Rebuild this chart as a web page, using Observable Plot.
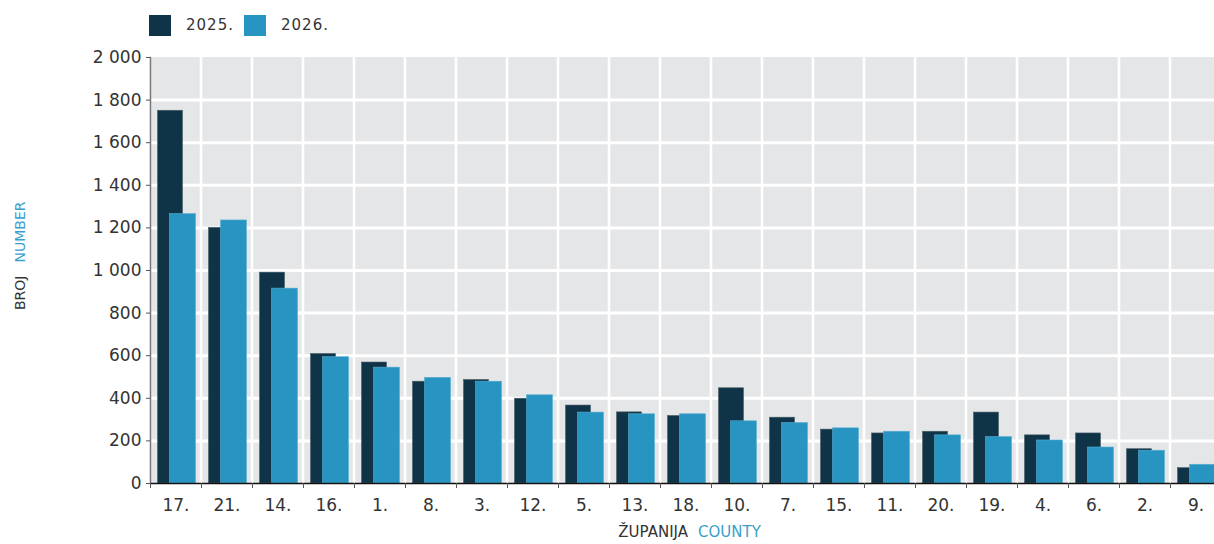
<!DOCTYPE html>
<html>
<head>
<meta charset="utf-8">
<script src="https://cdn.jsdelivr.net/npm/d3@7"></script>
<script src="https://cdn.jsdelivr.net/npm/@observablehq/plot@0.6"></script>
<style>
  html, body { margin: 0; padding: 0; background: #fff; overflow: hidden; width: 1214px; height: 544px; }
  #legend { position: relative; height: 50px; font-family: "DejaVu Sans", sans-serif; font-size: 15px; color: #333; }
  .sw { position: absolute; top: 15px; width: 22px; height: 21px; }
  .lt { position: absolute; top: 15px; line-height: 21px; letter-spacing: 1px; }
  #chart svg { display: block; overflow: visible; max-width: none !important; }
</style>
</head>
<body>
<div id="legend">
  <div class="sw" style="left:149px;background:#0f3447"></div>
  <div class="lt" style="left:186px">2025.</div>
  <div class="sw" style="left:244px;background:#2794c2"></div>
  <div class="lt" style="left:281px">2026.</div>
</div>
<div id="chart"></div>
<script>
const counties = ["17.","21.","14.","16.","1.","8.","3.","12.","5.","13.","18.","10.","7.","15.","11.","20.","19.","4.","6.","2.","9."];
const v2025 = [1750,1200,990,608,568,478,486,398,366,334,317,447,309,253,235,243,333,226,235,161,72];
const v2026 = [1265,1235,915,593,544,496,478,414,333,325,325,292,284,259,243,226,218,202,169,154,88];
const yTicks = [0,200,400,600,800,1000,1200,1400,1600,1800,2000];

const rows25 = counties.map((c,i) => ({county: c, value: v2025[i]}));
const rows26 = counties.map((c,i) => ({county: c, value: v2026[i]}));
const fmt = d => d3.format(",")(d).replace(/,/g, " ");

const bw = (1221 - 150) / counties.length;

const chart = Plot.plot({
  width: 1222,
  height: 494,
  marginLeft: 150,
  marginRight: 1,
  marginTop: 7,
  marginBottom: 61,
  style: { fontFamily: "DejaVu Sans, sans-serif", fontSize: "17px", color: "#333", background: "transparent", maxWidth: "none" },
  x: { domain: counties, padding: 0, label: null },
  y: { domain: [0, 2000], label: null },
  marks: [
    Plot.barY(counties, { x: d => d, y1: 0, y2: 2000, fill: "#e5e6e8", insetLeft: 1.3, insetRight: 1.3 }),
    Plot.ruleY(yTicks.filter(d => d > 0 && d < 2000), { stroke: "#fff", strokeWidth: 3 }),
    Plot.barY(rows25, { x: "county", y: "value", fill: "#0f3447", insetLeft: 7.5, insetRight: 18.5, stroke: "#4a5e68", strokeWidth: 0.6 }),
    Plot.barY(rows26, { x: "county", y: "value", fill: "#2794c2", insetLeft: 19.5, insetRight: 5.5, stroke: "#5aaed0", strokeWidth: 0.6 }),
    Plot.axisY({ ticks: yTicks, tickFormat: fmt, tickSize: 4, tickPadding: 5, stroke: "#555", fontSize: 17, letterSpacing: "1.2px" }),
    Plot.frame({ anchor: "left", stroke: "#777", strokeWidth: 1.5 }),
    Plot.ruleY([0], { stroke: "#111", strokeWidth: 1.5 }),
    Plot.axisX({ tickSize: 5, tickFormat: () => "", dx: -bw / 2, stroke: "#555" }),
    Plot.axisX({ tickSize: 0, tickPadding: 15, fontSize: 17, letterSpacing: "1.2px" }),
    Plot.text(["ŽUPANIJA"], { frameAnchor: "bottom", dx: 2, dy: 53, textAnchor: "end", fill: "#333", fontSize: 15, letterSpacing: "1px" }),
    Plot.text(["COUNTY"], { frameAnchor: "bottom", dx: 12, dy: 53, textAnchor: "start", fill: "#3a9fcb", fontSize: 15, letterSpacing: "1px" }),
    Plot.text(["BROJ"], { frameAnchor: "left", dx: -130, dy: 5, rotate: -90, textAnchor: "end", fill: "#333", fontSize: 14, letterSpacing: "0.5px" }),
    Plot.text(["NUMBER"], { frameAnchor: "left", dx: -130, dy: -8, rotate: -90, textAnchor: "start", fill: "#3a9fcb", fontSize: 14, letterSpacing: "0.5px" })
  ]
});
document.getElementById("chart").append(chart);
</script>
</body>
</html>
